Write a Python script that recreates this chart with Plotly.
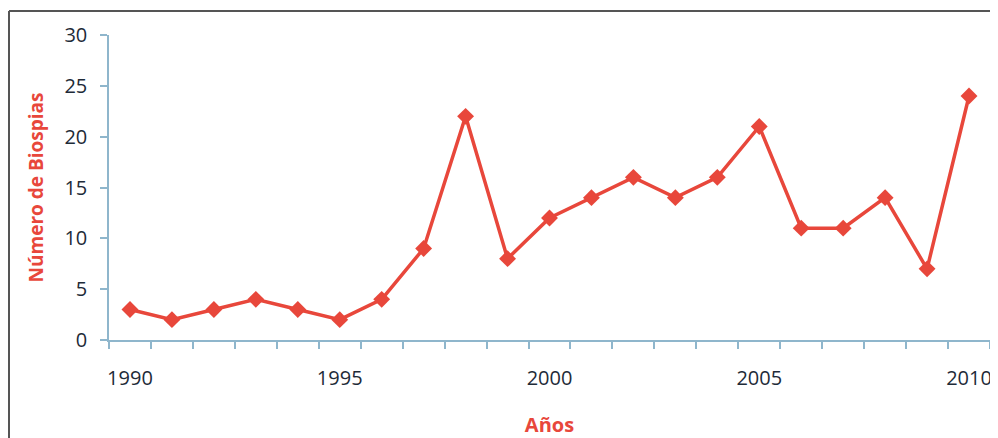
import plotly.graph_objects as go

years = list(range(1990, 2011))
biopsias = [3, 2, 3, 4, 3, 2, 4, 9, 22, 8, 12, 14, 16, 14, 16, 21, 11, 11, 14, 7, 24]
x_labels = [1990, 1995, 2000, 2005, 2010]
y_ticks = [0, 5, 10, 15, 20, 25, 30]

red = "#E8473B"
axis_col = "#8FB6CC"
txt = "#1E2B38"

fig = go.Figure()
fig.add_trace(go.Scatter(
    x=years, y=biopsias, mode="lines+markers",
    line=dict(color=red, width=3.5),
    marker=dict(symbol="diamond", size=13, color=red),
    hoverinfo="x+y", showlegend=False,
))

# page body has an 8px default margin: compensate
OFF = 8
W, H = 998 - OFF, 438 - OFF
ml, mt = 109 - OFF, 35 - OFF
mr = W - (990 - OFF)
mb = H - (340 - OFF)
pw = W - ml - mr
ph = H - mt - mb

fig.update_layout(
    width=W, height=H,
    margin=dict(l=ml, r=mr, t=mt, b=mb, autoexpand=False),
    paper_bgcolor="white", plot_bgcolor="white",
    font=dict(family="Open Sans, Liberation Sans, sans-serif", color=txt),
    xaxis=dict(
        range=[years[0] - 0.5, years[-1] + 0.5],
        tickmode="array", tickvals=x_labels, ticktext=[str(v) for v in x_labels],
        ticks="outside", ticklen=8, tickcolor="rgba(0,0,0,0)",
        ticklabelstandoff=11,
        tickfont=dict(size=20, color=txt),
        minor=dict(tickmode="linear", tick0=years[0] - 0.5, dtick=1,
                   ticks="outside", ticklen=7, tickcolor=axis_col, tickwidth=1.5,
                   showgrid=False),
        showline=True, linecolor=axis_col, linewidth=1.5,
        showgrid=False, zeroline=False,
        title=dict(text="<b>Años</b>", font=dict(size=20, color=red), standoff=34),
    ),
    yaxis=dict(
        range=[0, 30], tickmode="array", tickvals=y_ticks,
        ticks="outside", ticklen=7, tickcolor=axis_col, tickwidth=1.5,
        ticklabelstandoff=9,
        tickfont=dict(size=20, color=txt),
        showline=True, linecolor=axis_col, linewidth=1.5,
        showgrid=False, zeroline=False,
        title=dict(text="<b>Número de Biospias</b>", font=dict(size=19, color=red), standoff=16),
    ),
)

# frame around the figure (left and top edges visible)
x_left = (9 - OFF - ml) / pw
y_top = 1 + (mt - (11 - OFF)) / ph
fig.add_shape(type="line", xref="paper", yref="paper", x0=x_left, x1=x_left,
              y0=y_top, y1=-0.5, line=dict(color="#555555", width=2))
fig.add_shape(type="line", xref="paper", yref="paper", x0=x_left, x1=1.1,
              y0=y_top, y1=y_top, line=dict(color="#555555", width=2))

fig.write_html("out.html")
